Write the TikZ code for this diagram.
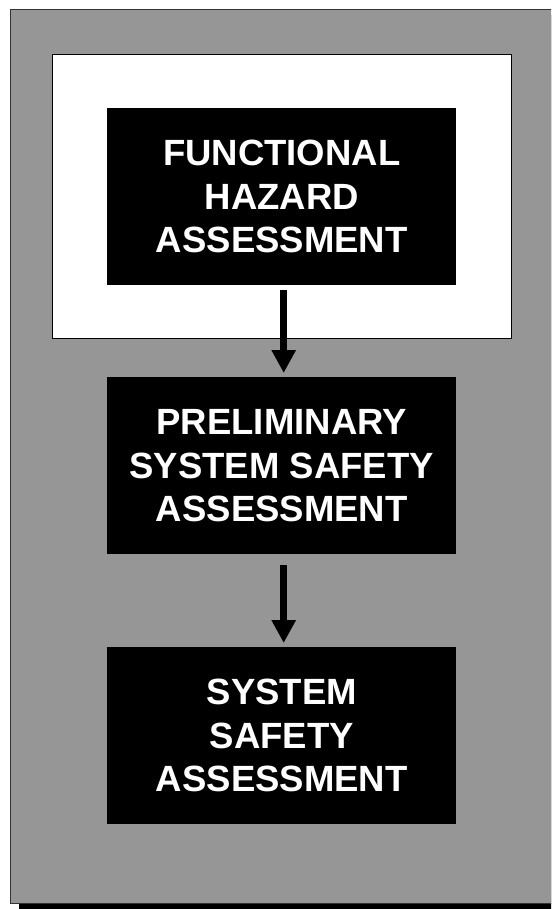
\documentclass[tikz,border=0pt]{standalone}
\usepackage{fontspec}
\setmainfont{Liberation Sans}
\usetikzlibrary{arrows.meta}
\definecolor{panelgray}{RGB}{150,150,150}
\begin{document}
\begin{tikzpicture}[x=1pt,y=-1pt,
  blackbox/.style={fill=black,draw=none,text=white,align=center,
    font=\fontsize{36.5}{43.5}\selectfont\bfseries,
    minimum width=349pt,minimum height=177pt,inner sep=0pt,anchor=north west},
  flowarrow/.style={line width=7pt,-{Triangle[width=23pt,length=23pt]},
    shorten <=5pt,shorten >=4pt}]
\useasboundingbox (0,0) rectangle (551,909);
\clip (0,0) rectangle (551,909);
\fill[white] (0,0) rectangle (551,909);
% shadow and panel
\fill[black] (19,15) rectangle (570,909);
\filldraw[fill=panelgray,draw=black!80,line width=1pt] (10.5,9.5) rectangle (570,903);
% white frame
\filldraw[fill=white,draw=black,line width=1pt] (52.5,54.5) rectangle (511.5,338.5);
% boxes
\node[blackbox] (fha) at (107,108) {FUNCTIONAL\\HAZARD\\ASSESSMENT};
\node[blackbox] (pssa) at (107,377) {PRELIMINARY\\SYSTEM SAFETY\\ASSESSMENT};
\node[blackbox] (ssa) at (107,647) {SYSTEM\\SAFETY\\ASSESSMENT};
% arrows
\draw[flowarrow] ([xshift=2pt]fha.south) -- ([xshift=2pt]pssa.north);
\draw[flowarrow] ([xshift=2pt,yshift=-6pt]pssa.south) -- ([xshift=2pt]ssa.north);
\end{tikzpicture}
\end{document}
